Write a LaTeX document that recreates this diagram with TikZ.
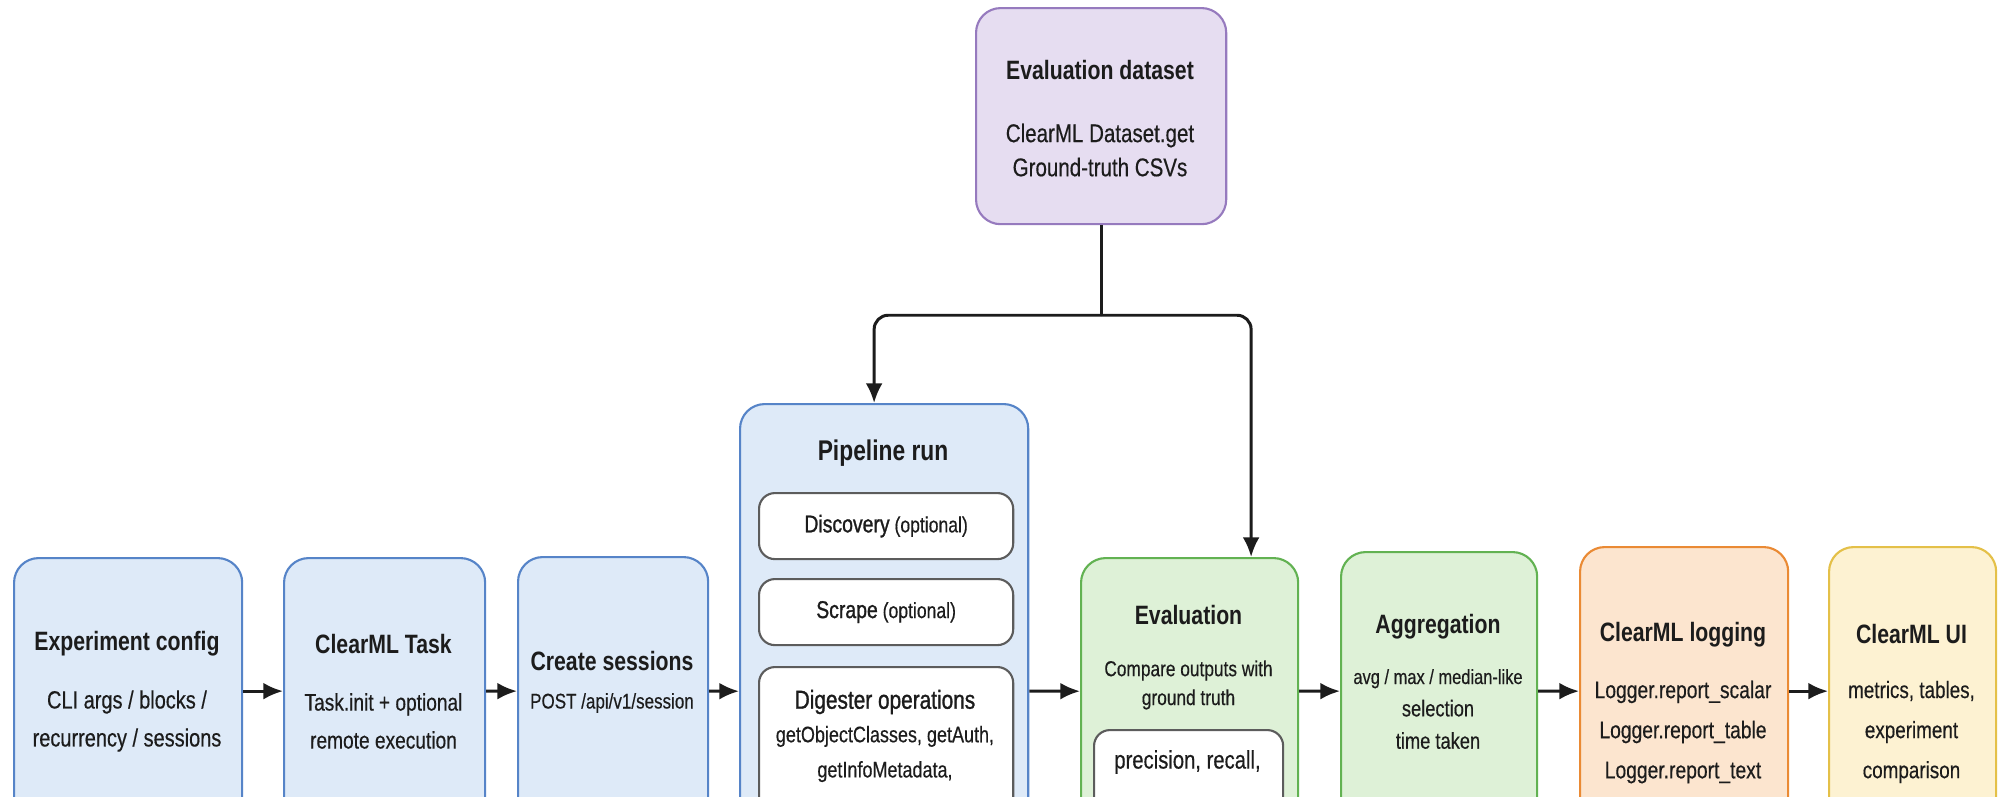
\documentclass[tikz,border=0pt]{standalone}
\usepackage{fontspec}
\setmainfont{Liberation Sans}[FakeStretch=0.8, UprightFeatures={FakeBold=0.4}]
\newfontfamily\medfont{Liberation Sans}[FakeStretch=0.8,FakeBold=1.1]
\usetikzlibrary{arrows.meta,calc}
\definecolor{ink}{RGB}{28,28,28}
\definecolor{bluefill}{RGB}{222,234,248}
\definecolor{blueline}{RGB}{86,132,200}
\definecolor{purplefill}{RGB}{230,221,241}
\definecolor{purpleline}{RGB}{150,122,190}
\definecolor{greenfill}{RGB}{222,241,215}
\definecolor{greenline}{RGB}{98,178,82}
\definecolor{orangefill}{RGB}{252,229,207}
\definecolor{orangeline}{RGB}{234,138,52}
\definecolor{yellowfill}{RGB}{253,242,210}
\definecolor{yellowline}{RGB}{228,192,72}
\definecolor{subline}{RGB}{92,92,92}

\begin{document}
\begin{tikzpicture}[x=0.01cm, y=-0.01cm, >={Latex[length=5.6pt,width=4.8pt]},
    blk/.style={draw, rounded corners=7pt, line width=0.6pt, anchor=north west, inner sep=0pt},
    sub/.style={blk, fill=white, draw=subline, rounded corners=4.5pt},
    ttl/.style={font=\fontsize{7.55}{9}\selectfont\bfseries, text=ink, inner sep=0pt},
    txt/.style={font=\fontsize{6.8}{10.8}\selectfont, text=ink, align=center, inner sep=0pt},
    flow/.style={->, line width=0.85pt, draw=ink}]
    \fill[white] (0,0) rectangle (1999,796);
    \useasboundingbox (0,0) rectangle (1999,796);
    \clip (0,0) rectangle (1999,796);

    % dataset on top
    \node[blk, fill=purplefill, draw=purpleline, minimum width=2.5cm, minimum height=2.16cm] (ds) at (975,7) {};
    \node[ttl] (dsT) at (1100,70) {Evaluation dataset};
    \node[txt, font=\fontsize{7.3}{9.7}\selectfont] (dsB) at (1100,150) {ClearML Dataset.get\\Ground-truth CSVs};

    % main row
    \node[blk, fill=bluefill, draw=blueline, minimum width=2.28cm, minimum height=2.66cm] (cfg) at (13,557) {};
    \node[ttl] (cfgT) at (127,644) {Experiment config};
    \node[txt, font=\fontsize{7.1}{10.8}\selectfont] (cfgB) at (127,721) {CLI args / blocks /\\recurrency / sessions};

    \node[blk, fill=bluefill, draw=blueline, minimum width=2.01cm, minimum height=2.66cm] (task) at (283,557) {};
    \node[ttl] (taskT) at (383.5,644) {ClearML Task};
    \node[txt] (taskB) at (383.5,721) {Task.init + optional\\remote execution};

    \node[blk, fill=bluefill, draw=blueline, minimum width=1.9cm, minimum height=2.68cm] (sess) at (517,556) {};
    \node[ttl] (sessT) at (612,661) {Create sessions};
    \node[txt, font=\fontsize{6.05}{8}\selectfont] (sessB) at (612,703) {POST /api/v1/session};

    \node[blk, fill=bluefill, draw=blueline, minimum width=2.88cm, minimum height=5.74cm] (pipe) at (739,403) {};
    \node[ttl, font=\fontsize{8.1}{9.5}\selectfont\bfseries] (pipeT) at (883,453) {Pipeline run};
    \node[sub, minimum width=2.54cm, minimum height=0.66cm] (disc) at (758,492) {};
    \node[txt, font=\fontsize{6.25}{7}\selectfont] (discT) at (disc) {{\fontsize{6.9}{8}\medfont Discovery} (optional)};
    \node[sub, minimum width=2.54cm, minimum height=0.66cm] (scrp) at (758,578) {};
    \node[txt, font=\fontsize{6.25}{7}\selectfont] (scrpT) at (scrp) {{\fontsize{6.9}{8}\medfont Scrape} (optional)};
    \node[sub, minimum width=2.54cm, minimum height=3cm] (dig) at (758,666) {};
    \node[txt, font=\fontsize{7.4}{8}\medfont] (digT) at (885,702) {Digester operations};
    \node[txt, font=\fontsize{6.4}{10}\selectfont] (digB) at (885,754) {getObjectClasses, getAuth,\\getInfoMetadata,};

    \node[blk, fill=greenfill, draw=greenline, minimum width=2.17cm, minimum height=2.66cm] (eval) at (1080,557) {};
    \node[ttl] (evalT) at (1188.5,615) {Evaluation};
    \node[txt, font=\fontsize{6.15}{8.2}\selectfont] (evalB) at (1188.5,685) {Compare outputs with\\ground truth};
    \node[sub, minimum width=1.89cm, minimum height=2cm] (metr) at (1093,729) {};
    \node[txt, font=\fontsize{7.2}{8}\selectfont] (metrT) at (1187.5,762) {precision, recall,};

    \node[blk, fill=greenfill, draw=greenline, minimum width=1.96cm, minimum height=2.78cm] (agg) at (1340,551) {};
    \node[ttl] (aggT) at (1438,627) {Aggregation};
    \node[txt, font=\fontsize{6.5}{9.2}\selectfont] (aggB) at (1438,709) {{\fontsize{5.85}{9.2}\selectfont avg / max / median-like}\\selection\\time taken};

    \node[blk, fill=orangefill, draw=orangeline, minimum width=2.08cm, minimum height=2.88cm] (logr) at (1579,546) {};
    \node[ttl] (logrT) at (1683,635) {ClearML logging};
    \node[txt, font=\fontsize{6.85}{11.4}\selectfont] (logrB) at (1683,732) {Logger.report\_scalar\\Logger.report\_table\\Logger.report\_text};

    \node[blk, fill=yellowfill, draw=yellowline, minimum width=1.67cm, minimum height=2.88cm] (ui) at (1828,546) {};
    \node[ttl] (uiT) at (1911.5,634) {ClearML UI};
    \node[txt, font=\fontsize{6.7}{11.4}\selectfont] (uiB) at (1911.5,732) {metrics, tables,\\experiment\\comparison};

    % connectors
    \coordinate (fork) at ($(ds.south)+(0,90)$);
    \draw[line width=0.85pt, draw=ink] (ds.south) -- (fork);
    \draw[flow, rounded corners=4pt] (fork) -| ($(pipe.north)+(-10,0)$);
    \draw[flow, rounded corners=4pt] (fork) -| ($(eval.north)+(61.5,0)$);
    \draw[flow] (cfg) -- (task);
    \draw[flow] (task) -- (sess);
    \draw[flow] (sess) -- (pipe);
    \draw[flow] (pipe) -- (eval);
    \draw[flow] (eval) -- (agg);
    \draw[flow] (agg) -- (logr);
    \draw[flow] (logr) -- (ui);
\end{tikzpicture}
\end{document}
